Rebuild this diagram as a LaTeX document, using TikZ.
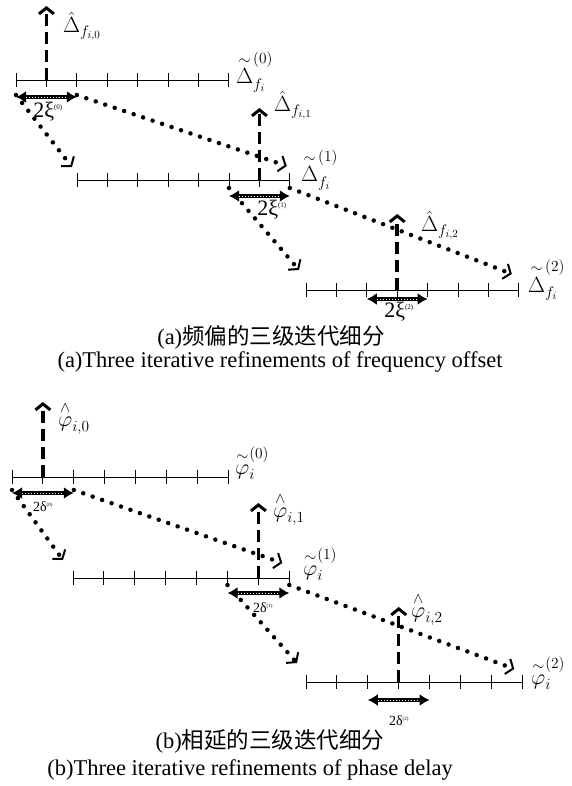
\documentclass[tikz,border=0pt]{standalone}
\usepackage{fix-cm}
\usepackage{amsmath}
\usepackage{fontspec}
\setmainfont{Liberation Serif}
\newfontfamily\cjk{Noto Sans CJK SC}
\usetikzlibrary{arrows.meta}

% ruler with 8 ticks: name, first tick x, y, tick step
\newcommand\drawruler[4]{%
  \foreach \k in {0,...,7}
    \coordinate (#1-\k) at ({#2+\k*#4},#3);
  \draw[rulerline] (#1-0) -- (#1-7);
  \foreach \k in {0,...,7}
    \draw[rulerline] ([yshift=7pt]#1-\k) -- ([yshift=-7pt]#1-\k);
}

\begin{document}
\begin{tikzpicture}[x=1pt, y=-1pt,
  rulerline/.style={line width=0.9pt},
  estarrow/.style={line width=3.5pt, dash pattern=on 12pt off 6pt,
    -{Straight Barb[length=6pt,width=15pt,line width=3pt]}},
  spanarrow/.style={line width=4pt,
    {Latex[length=10pt,width=12pt]}-{Latex[length=10pt,width=12pt]},
    postaction={draw=white, line width=0.8pt, dash pattern=on 1pt off 2pt,
      shorten <=10pt, shorten >=10pt, -}},
  zoomline/.style={line width=4.5pt, line cap=round, dash pattern=on 0pt off 10pt,
    -{Straight Barb[length=6pt,width=16pt,line width=2pt]}},
  lbl/.style={anchor=base west, inner sep=0pt, font=\fontsize{22}{26}\selectfont},
  spanlbl/.style={inner sep=0pt, font=\fontsize{22}{26}\selectfont},
  smalllbl/.style={inner sep=0pt, font=\fontsize{14}{16}\selectfont},
  caption/.style={inner sep=0pt, font=\fontsize{22.5}{26}\selectfont}
]
\useasboundingbox (0,0) rectangle (572,786);

% (a) frequency offset
\drawruler{a0}{16}{80}{30.4}
\drawruler{a1}{77}{180}{30.4}
\drawruler{a2}{306}{290}{30.4}

\coordinate (a-tip0) at ([yshift=74pt]a0-1);
\coordinate (a-tip1) at ([yshift=72pt]a1-6);
\coordinate (a-tip2) at ([yshift=76pt]a2-3);
\draw[estarrow] (a0-1) -- (a-tip0);
\draw[estarrow] (a1-6) -- (a-tip1);
\draw[estarrow] (a2-3) -- (a-tip2);

\draw[zoomline] ([yshift=-15pt]a0-0) -- ([xshift=-5pt,yshift=13pt]a1-0);
\draw[zoomline] ([yshift=-15pt]a0-2) -- ([xshift=-3pt,yshift=14pt]a1-7);
\draw[zoomline] ([yshift=-8pt]a1-5) -- ([xshift=-7pt,yshift=20pt]a2-0);
\draw[zoomline] ([yshift=-8pt]a1-7) -- ([xshift=-7pt,yshift=16pt]a2-7);

\draw[spanarrow] ([yshift=-17pt]a0-0) -- ([yshift=-17pt]a0-2);
\draw[spanarrow] ([yshift=-16pt]a1-5) -- ([yshift=-16pt]a1-7);
\draw[spanarrow] ([yshift=-9pt]a2-2) -- ([yshift=-9pt]a2-4);

\node[lbl] (a-hat0) at (63,33)  {$\hat{\Delta}_{f_{i,0}}$};
\node[lbl] (a-hat1) at (274,112) {$\hat{\Delta}_{f_{i,1}}$};
\node[lbl] (a-hat2) at (421,232) {$\hat{\Delta}_{f_{i,2}}$};
\node[lbl] (a-til0) at (236,84)  {${\overset{\sim}{\Delta}}^{(0)}_{f_i}$};
\node[lbl] (a-til1) at (301,182) {${\overset{\sim}{\Delta}}^{(1)}_{f_i}$};
\node[lbl] (a-til2) at (528,292) {${\overset{\sim}{\Delta}}^{(2)}_{f_i}$};
\node[spanlbl] (a-xi0) at (48,112)  {2ξ\textsuperscript{\scriptsize(0)}};
\node[spanlbl] (a-xi1) at (272,210) {2ξ\textsuperscript{\scriptsize(1)}};
\node[spanlbl] (a-xi2) at (399,312) {2ξ\textsuperscript{\scriptsize(2)}};

\node[caption] (a-zh) at (271,337) {(a){\cjk 频偏的三级迭代细分}};
\node[caption] (a-en) at (280,362) {(a)Three iterative refinements of frequency offset};

% (b) phase delay
\drawruler{b0}{12}{477}{30.9}
\drawruler{b1}{73}{578}{30.9}
\drawruler{b2}{306}{682}{30.9}

\coordinate (b-tip0) at ([yshift=75pt]b0-1);
\coordinate (b-tip1) at ([yshift=75pt]b1-6);
\coordinate (b-tip2) at ([yshift=75pt]b2-3);
\draw[estarrow] (b0-1) -- (b-tip0);
\draw[estarrow] (b1-6) -- (b-tip1);
\draw[estarrow] (b2-3) -- (b-tip2);

\draw[zoomline] ([yshift=-13pt]b0-0) -- ([xshift=-10pt,yshift=18pt]b1-0);
\draw[zoomline] ([yshift=-13pt]b0-2) -- ([xshift=-7pt,yshift=15pt]b1-7);
\draw[zoomline] ([yshift=-7pt]b1-5) -- ([xshift=-9pt,yshift=19pt]b2-0);
\draw[zoomline] ([yshift=-7pt]b1-7) -- ([xshift=-8pt,yshift=13pt]b2-7);

\draw[spanarrow] ([yshift=-16pt]b0-0) -- ([yshift=-16pt]b0-2);
\draw[spanarrow] ([yshift=-15pt]b1-5) -- ([yshift=-15pt]b1-7);
\draw[spanarrow] ([yshift=-18pt]b2-2) -- ([yshift=-18pt]b2-4);

\node[lbl] (b-hat0) at (58,426)  {${\overset{\wedge}{\varphi}}_{i,0}$};
\node[lbl] (b-hat1) at (273,517) {${\overset{\wedge}{\varphi}}_{i,1}$};
\node[lbl] (b-hat2) at (411,617) {${\overset{\wedge}{\varphi}}_{i,2}$};
\node[lbl] (b-til0) at (235,474) {${\overset{\sim}{\varphi}}^{(0)}_{i}$};
\node[lbl] (b-til1) at (303,575) {${\overset{\sim}{\varphi}}^{(1)}_{i}$};
\node[lbl] (b-til2) at (531,684) {${\overset{\sim}{\varphi}}^{(2)}_{i}$};
\node[smalllbl] (b-de0) at (43,507)  {2δ\textsuperscript{\tiny(0)}};
\node[smalllbl] (b-de1) at (263,608) {2δ\textsuperscript{\tiny(1)}};
\node[smalllbl] (b-de2) at (399,721) {2δ\textsuperscript{\tiny(2)}};

\node[caption] (b-zh) at (270,741) {(b){\cjk 相延的三级迭代细分}};
\node[caption] (b-en) at (250,770) {(b)Three iterative refinements of phase delay};
\end{tikzpicture}
\end{document}
